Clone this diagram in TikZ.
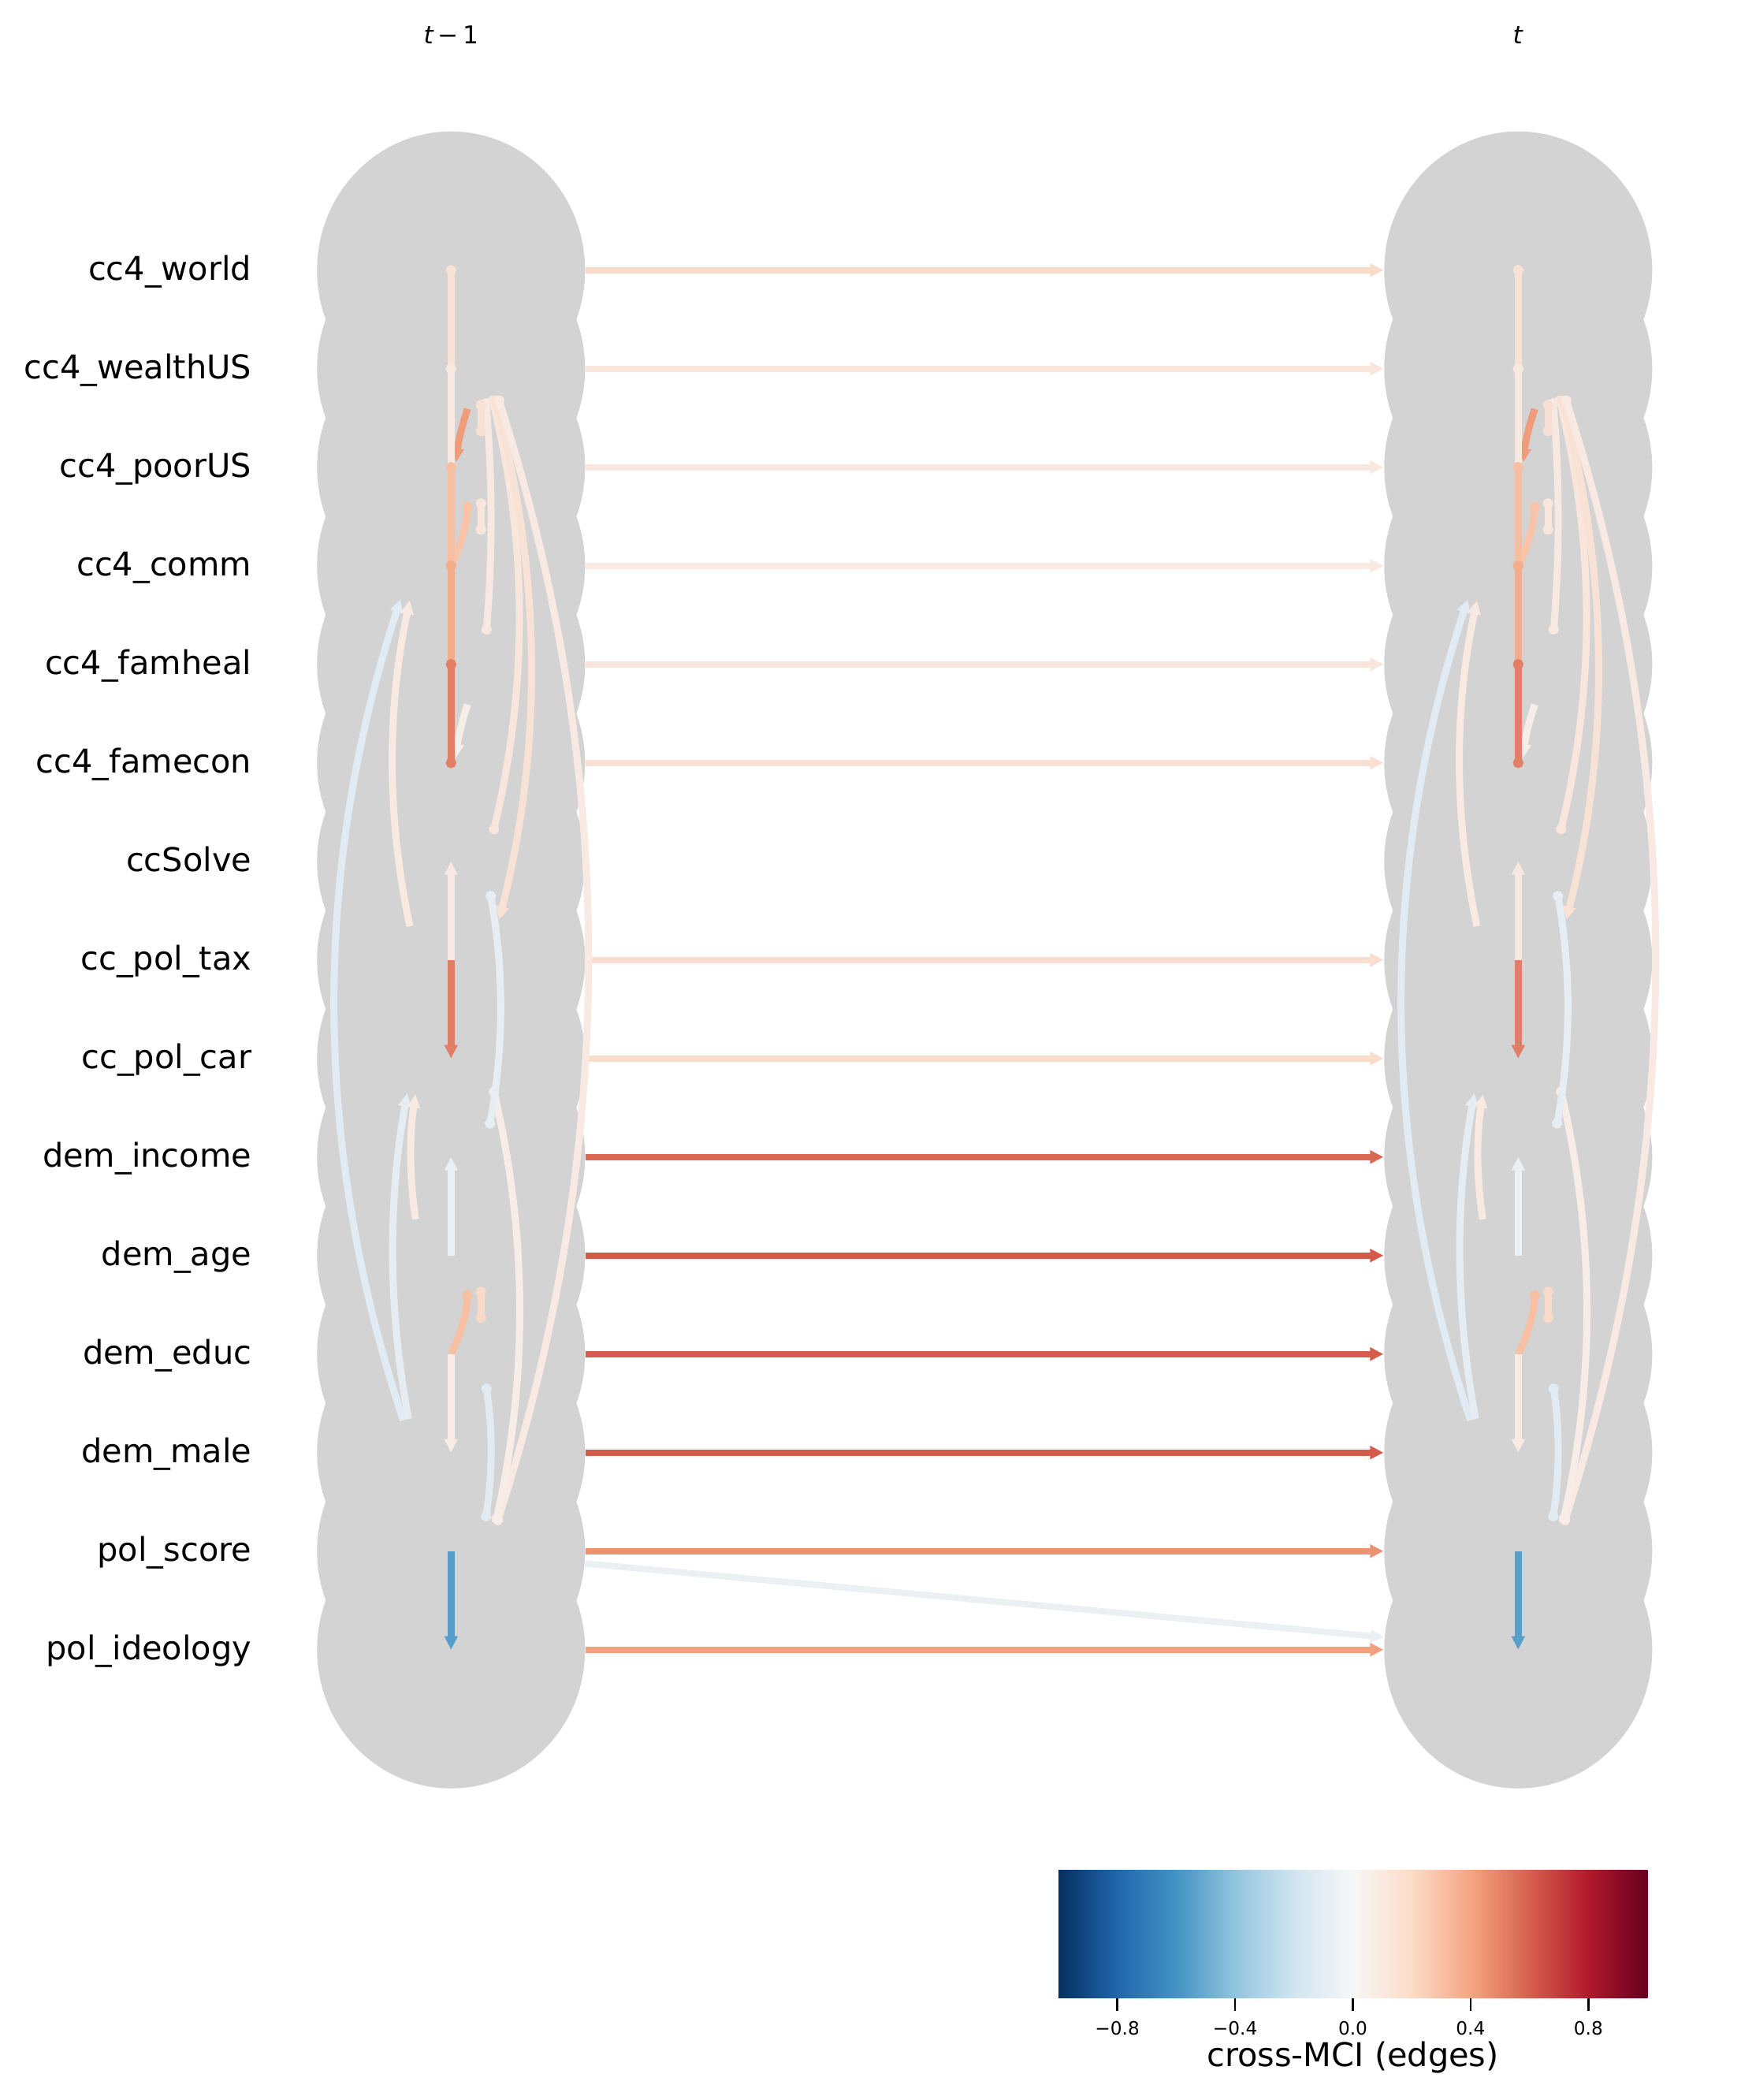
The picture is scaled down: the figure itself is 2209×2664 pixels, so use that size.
\documentclass[tikz,border=0pt]{standalone}
\usepackage{fontspec}
\setmainfont{DejaVu Sans}
\usepackage{tikz}
\usetikzlibrary{arrows.meta,shapes.geometric}
\definecolor{NodeGray}{HTML}{D3D3D3}
% lagged links t-1 -> t
\definecolor{LagWorld}{HTML}{F9DBCA}
\definecolor{LagWealth}{HTML}{F8E5DB}
\definecolor{LagPoor}{HTML}{F8E8E0}
\definecolor{LagComm}{HTML}{F8E9E1}
\definecolor{LagHeal}{HTML}{F8E6DD}
\definecolor{LagEcon}{HTML}{F9E0D2}
\definecolor{LagTax}{HTML}{F9DECF}
\definecolor{LagCar}{HTML}{FADCCA}
\definecolor{LagIncome}{HTML}{DA6853}
\definecolor{LagAge}{HTML}{D45A4A}
\definecolor{LagEduc}{HTML}{D55D4C}
\definecolor{LagMale}{HTML}{D45B4B}
\definecolor{LagScore}{HTML}{ED9271}
\definecolor{LagIdeo}{HTML}{F1A17F}
\definecolor{LagCross}{HTML}{EBF0F3}
% contemporaneous links
\definecolor{ConWorld}{HTML}{F8E2D5}
\definecolor{ConWealth}{HTML}{F7E8E0}
\definecolor{ConPoor}{HTML}{F7BEA1}
\definecolor{ConComm}{HTML}{F4AD8B}
\definecolor{ConHeal}{HTML}{E27F65}
\definecolor{ArcPoor}{HTML}{F09C7B}
\definecolor{ArcComm}{HTML}{F8C3A7}
\definecolor{ArcEcon}{HTML}{F6EDE8}
\definecolor{ArcEduc}{HTML}{F7C0A3}
\definecolor{StubA}{HTML}{F8E1D4}
\definecolor{StubB}{HTML}{F8E6DC}
\definecolor{StubC}{HTML}{F9D9C8}
\definecolor{ArcA}{HTML}{F7E9E2}
\definecolor{ArcBa}{HTML}{F8E6DC}
\definecolor{ArcBb}{HTML}{F8E2D5}
\definecolor{ArcBc}{HTML}{F8EAE3}
\definecolor{ArcC}{HTML}{F8ECE6}
\definecolor{ArcD}{HTML}{E2EBF2}
\definecolor{ArcE}{HTML}{E6EEF3}
\definecolor{ArcF}{HTML}{E1EBF4}
\definecolor{ArcG}{HTML}{F8E9E1}
\definecolor{ArcH}{HTML}{E5EDF2}
\definecolor{ArcI}{HTML}{F8E9E1}
\definecolor{TaxSolve}{HTML}{F7E9E2}
\definecolor{TaxCar}{HTML}{E17F66}
\definecolor{AgeIncome}{HTML}{EAF0F4}
\definecolor{EducMale}{HTML}{F8EBE4}
\definecolor{ScoreIdeo}{HTML}{579FCA}
% RdBu_r colour map
\definecolor{RdBu0}{HTML}{053061}
\definecolor{RdBu1}{HTML}{2166AC}
\definecolor{RdBu2}{HTML}{4393C3}
\definecolor{RdBu3}{HTML}{92C5DE}
\definecolor{RdBu4}{HTML}{D1E5F0}
\definecolor{RdBu5}{HTML}{F7F7F7}
\definecolor{RdBu6}{HTML}{FDDBC7}
\definecolor{RdBu7}{HTML}{F4A582}
\definecolor{RdBu8}{HTML}{D6604D}
\definecolor{RdBu9}{HTML}{B2182B}
\definecolor{RdBu10}{HTML}{67001F}

\begin{document}
\begin{tikzpicture}[
  x=0.08467mm, y=-0.08467mm,
  var/.style={ellipse,fill=NodeGray,inner sep=0pt,minimum width=28.79mm,minimum height=29.80mm},
  lab/.style={anchor=base east,inner sep=0pt,font=\fontsize{10}{12}\selectfont},
  timelab/.style={anchor=base,inner sep=0pt,font=\fontsize{7.5}{9}\selectfont},
  ticklab/.style={anchor=base,inner sep=0pt,font=\fontsize{5.6}{7}\selectfont},
  lag/.style={line width=0.68mm,-{Triangle[length=1.44mm,width=1.36mm]}},
  link/.style={line width=0.76mm},
  arr/.style={-{Triangle[length=1.44mm,width=1.36mm]}},
  undir/.style={{Circle[length=1.1mm]}-{Circle[length=1.1mm]},shorten <=-0.55mm,shorten >=-0.55mm},
  half/.style={{Circle[length=1.1mm]}-,shorten <=-0.55mm},
  oarr/.style={{Circle[length=1.1mm]}-{Triangle[length=1.44mm,width=1.36mm]},shorten <=-0.55mm}
]
\fill[white] (0,0) rectangle (2209,2664);
\useasboundingbox (0,0) rectangle (2209,2664);

% variables at t-1 and t
\foreach \i in {0,...,14}{
  \node[var] (L\i) at (572.3,{342.7+125*\i}) {};
  \node[var] (R\i) at (1926.3,{342.7+125*\i}) {};
}
\foreach \i/\name in {0/cc4\_world,1/cc4\_wealthUS,2/cc4\_poorUS,3/cc4\_comm,4/cc4\_famheal,
    5/cc4\_famecon,6/ccSolve,7/cc\_pol\_tax,8/cc\_pol\_car,9/dem\_income,10/dem\_age,
    11/dem\_educ,12/dem\_male,13/pol\_score,14/pol\_ideology}
  \node[lab] (lab\i) at (320,{355.2+125*\i}) {\name};
\node[timelab] (tPrev) at (572.3,55) {\textit{t}\,−\,1};
\node[timelab] (tNow) at (1926.3,55) {\textit{t}};

% lagged links
\foreach \i/\col in {0/LagWorld,1/LagWealth,2/LagPoor,3/LagComm,4/LagHeal,5/LagEcon,7/LagTax,
    8/LagCar,9/LagIncome,10/LagAge,11/LagEduc,12/LagMale,13/LagScore,14/LagIdeo}
  \draw[lag,\col] (L\i) -- (R\i);
\draw[lag,LagCross] (L13) -- (R14);

% contemporaneous links, same in both columns
\foreach \side in {L,R}{
  \begin{scope}[shift={(\side0)}]
    \draw[link,undir,ArcA] (44.4,169) .. controls (52.6,264.5) and (52.8,360) .. (45,455.6);
    \draw[link,undir,ArcBa] (52.7,165.6) .. controls (97.3,346.7) and (97.8,528) .. (54.4,709);
    \draw[link,oarr,ArcBb] (56,165.6) .. controls (115,385) and (116.6,604.5) .. (61,824);
    \draw[link,undir,ArcBc] (61,165.6) .. controls (212.5,639) and (211.9,1112.3) .. (59.4,1585.6);
    \draw[link,undir,ArcC] (54.4,1042.3) .. controls (96.8,1223) and (97.9,1403.4) .. (57.7,1584);
    \draw[link,undir,ArcD] (45,1419) .. controls (52.8,1472.9) and (52.6,1526.7) .. (44.4,1580.6);
    \draw[link,undir,ArcE] (50.4,794) .. controls (67.4,890) and (67.1,986) .. (49.4,1082.3);
    \draw[link,arr,ArcF] (-60.6,1459) .. controls (-176,1111.8) and (-177,764.5) .. (-64,417.3);
    \draw[link,arr,ArcG] (-52.3,832.3) .. controls (-81.6,694.5) and (-81.6,556.8) .. (-52.3,419);
    \draw[link,arr,ArcH] (-54,1457.3) .. controls (-79.8,1319.5) and (-80.4,1181.8) .. (-55.6,1044);
    \draw[link,arr,ArcI] (-45,1204) .. controls (-53,1151.2) and (-53,1098.4) .. (-45,1045.6);
    \foreach \row/\col in {2/StubA,3/StubB,11/StubC}
      \draw[link,undir,\col] (38,{125*\row-79}) -- (38,{125*\row-46});
    \foreach \row/\col in {2/ArcPoor,5/ArcEcon}
      \draw[link,arr,\col] (21,{125*\row-74}) .. controls (13.5,{125*\row-52}) and (8.6,{125*\row-29.5}) .. (6.5,{125*\row-6.5});
    \foreach \row/\col in {3/ArcComm,11/ArcEduc}
      \draw[link,half,\col] (21,{125*\row-74.5}) .. controls (19.3,{125*\row-49.7}) and (12.3,{125*\row-24.8}) .. (\side\row.center);
  \end{scope}
  \foreach \src/\dst/\col in {0/1/ConWorld,1/2/ConWealth,2/3/ConPoor,3/4/ConComm,4/5/ConHeal}
    \draw[link,undir,\col] (\side\src.center) -- (\side\dst.center);
  \foreach \src/\dst/\col in {7/6/TaxSolve,7/8/TaxCar,10/9/AgeIncome,11/12/EducMale,13/14/ScoreIdeo}
    \draw[link,arr,\col] (\side\src.center) -- (\side\dst.center);
}

% colour bar
\foreach \k/\kk in {0/1,1/2,2/3,3/4,4/5,5/6,6/7,7/8,8/9,9/10}
  \shade[left color=RdBu\k,right color=RdBu\kk] ({1343+74.7*\k},2372.7) rectangle ({1343.6+74.7*\kk},2534.7);
\foreach \k/\t in {1/−0.8,3/−0.4,5/0.0,7/0.4,9/0.8}{
  \draw[line width=0.22mm] ({1343+74.7*\k},2534.7) -- ++(0,16);
  \node[ticklab] (tick\k) at ({1343+74.7*\k},2581) {\t};
}
\node[anchor=base,inner sep=0pt,font=\fontsize{10}{12}\selectfont] (cbarLabel) at (1716.5,2621) {cross-MCI (edges)};
\end{tikzpicture}
\end{document}
